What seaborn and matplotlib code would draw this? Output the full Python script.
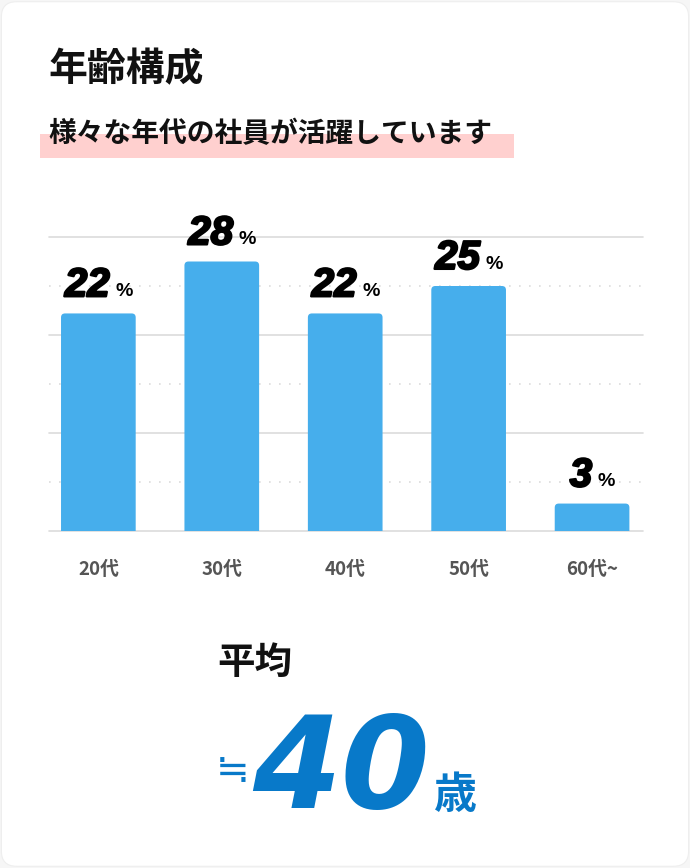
import pandas as pd
import matplotlib.pyplot as plt
import matplotlib.patheffects as pe
import seaborn as sns
from matplotlib.patches import FancyBboxPatch, Rectangle

sns.set_style('white')
plt.rcParams['font.family'] = ['Noto Sans CJK JP', 'DejaVu Sans']
plt.rcParams['axes.unicode_minus'] = False

# データ
age_groups = ['20代', '30代', '40代', '50代', '60代~']
shares = [22.2, 27.5, 22.2, 25.0, 2.8]        # 棒の高さ
share_labels = ['22', '28', '22', '25', '3']  # 表示ラベル
title = '年齢構成'
subtitle = '様々な年代の社員が活躍しています'
avg_label = '平均'
avg_age = '40'

BAR_COLOR = '#46aeec'
BLUE = '#0879c9'
NUM_FONT = 'Liberation Sans'
W, H = 690, 868

df = pd.DataFrame({'age': age_groups, 'share': shares})

fig = plt.figure(figsize=(6.9, 8.68), dpi=100)
fig.patch.set_facecolor('#f6f6f6')
card = FancyBboxPatch((0.002, 0.002), 0.996, 0.996, transform=fig.transFigure,
                      boxstyle='round,pad=0,rounding_size=0.022', mutation_aspect=W / H,
                      facecolor='white', edgecolor='#eeeeee', linewidth=0.8, zorder=-5)
fig.patches.append(card)

# 見出し
fig.text(0.0705, 0.9195, title, fontsize=28, fontweight='bold', color='#111111',
         ha='left', va='center')
fig.patches.append(Rectangle((0.058, 0.8176), 0.687, 0.028, transform=fig.transFigure,
                             facecolor='#ffd0cf', edgecolor='none', zorder=1))
fig.text(0.0705, 0.8455, subtitle, fontsize=20, fontweight='bold',
         color='#111111', ha='left', va='center', zorder=2)

# 棒グラフ
ax = fig.add_axes([0.0710, 0.38825, 0.8604, 0.33871])
sns.barplot(data=df, x='age', y='share', color=BAR_COLOR, width=0.605,
            saturation=1, ax=ax, zorder=3)

# 角丸に置き換え
px_x = 4.81 / 593.7   # x data units per px
px_y = 30 / 294       # y data units per px
r = 4 * px_x
for p in list(ax.patches):
    x0, w, h = p.get_x(), p.get_width(), p.get_height()
    p.set_visible(False)
    ax.add_patch(FancyBboxPatch((x0, -6 * px_y), w, h + 6 * px_y,
                                boxstyle=f'round,pad=0,rounding_size={r}',
                                mutation_aspect=px_y / px_x,
                                facecolor=BAR_COLOR, edgecolor='none', zorder=3))

ax.set_xlim(-0.4, 4.41)
ax.set_ylim(0, 30)
for v in [0, 10, 20, 30]:
    ax.axhline(v, color='#dcdcdc', linewidth=1.2, zorder=1, clip_on=False)
for v in [5, 15, 25]:
    ax.axhline(v, color='#dcdcdc', linewidth=1.2, linestyle=(0, (1, 5)), zorder=1)
ax.set_yticks([])
ax.set_xlabel('')
ax.set_ylabel('')
sns.despine(ax=ax, left=True, bottom=True)
ax.tick_params(axis='x', length=0, pad=21, labelsize=13.5, labelcolor='#555555')
for lab in ax.get_xticklabels():
    lab.set_fontweight('bold')

heavy = [pe.withStroke(linewidth=1.6, foreground='black')]
for i, (v, lbl) in enumerate(zip(shares, share_labels)):
    num = ax.annotate(lbl, xy=(i, v), xytext=(-8, 12.3), textcoords='offset points',
                      ha='center', va='baseline', fontsize=29, fontweight='bold',
                      fontstyle='italic', family=NUM_FONT, color='black', zorder=5,
                      path_effects=heavy)
    ax.annotate('%', xy=(1, v), xycoords=(num, 'data'), xytext=(4, 12.3),
                textcoords='offset points', ha='left', va='baseline', fontsize=14,
                fontweight='bold', family=NUM_FONT, color='black', zorder=5)

# 平均年齢
fig.text(0.3145, 0.2373, avg_label, fontsize=27, fontweight='bold', color='#111111',
         ha='left', va='center')
fig.text(0.312, 0.1125, '≒', fontsize=29, color=BLUE, ha='left', va='center')
fig.text(0.366, 0.0691, avg_age, fontsize=92, fontweight='bold', fontstyle='italic',
         family='DejaVu Sans', color=BLUE, ha='left', va='baseline')
fig.text(0.629, 0.0695, '歳', fontsize=31, fontweight='bold', color=BLUE,
         ha='left', va='baseline')

plt.savefig('out.png', dpi=100, facecolor=fig.get_facecolor())
plt.close()
